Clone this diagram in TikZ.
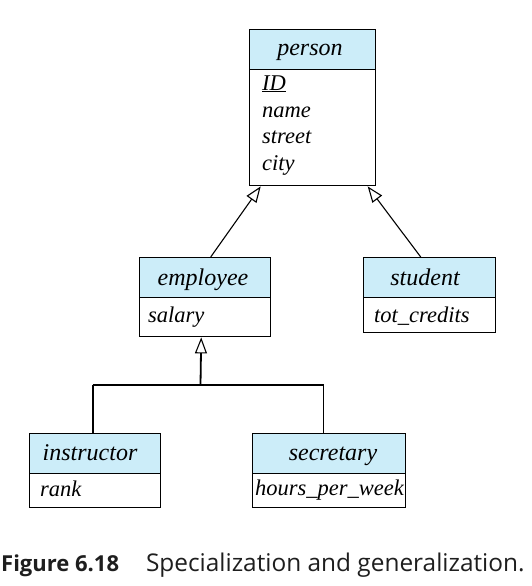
\documentclass[tikz,border=0pt]{standalone}
\usepackage{fontspec}
\setmainfont{Liberation Serif}
\newfontfamily\capfont{Open Sans}
\usetikzlibrary{arrows.meta}
\definecolor{hdrblue}{RGB}{204,237,249}
\definecolor{capgray}{RGB}{30,30,30}
\tikzset{
  hdrbox/.style={draw=black, line width=1.4pt, fill=hdrblue, anchor=north west, inner sep=0pt},
  bodybox/.style={draw=black, line width=1.4pt, fill=white, anchor=north west, inner sep=0pt},
  hlbl/.style={inner sep=0pt, anchor=base, font=\fontsize{24}{26}\selectfont\itshape},
  lbl/.style={inner sep=0pt, anchor=base west, font=\fontsize{22.5}{24}\selectfont\itshape},
  conn/.style={draw=black, line width=1.1pt},
  connthick/.style={draw=black, line width=1.8pt},
  gen/.style={-{Triangle[open, length=16pt, width=12pt, line width=1.1pt]}},
}
\begin{document}
\begin{tikzpicture}[x=1pt, y=-1pt]
\useasboundingbox (0,0) rectangle (531,586);
% person
\node[hdrbox, minimum width=126pt, minimum height=40pt] (personH) at (249,29) {};
\node[bodybox, minimum width=126pt, minimum height=116pt] (personB) at (249,69) {};
\node[hlbl] (personT) at (310,56) {person};
\node[lbl] (personA1) at (262,90) {\underline{ID}};
\node[lbl] (personA2) at (262,117) {name};
\node[lbl] (personA3) at (262,143) {street};
\node[lbl] (personA4) at (262,170) {city};
% employee
\node[hdrbox, minimum width=131pt, minimum height=40pt] (employeeH) at (139,257) {};
\node[bodybox, minimum width=131pt, minimum height=39pt] (employeeB) at (139,297) {};
\node[hlbl] (employeeT) at (203,285) {employee};
\node[lbl] (employeeA1) at (148,322) {salary};
% student
\node[hdrbox, minimum width=132pt, minimum height=40pt] (studentH) at (363,257) {};
\node[bodybox, minimum width=132pt, minimum height=35pt] (studentB) at (363,297) {};
\node[hlbl] (studentT) at (425,285) {student};
\node[lbl] (studentA1) at (374,322) {tot\_credits};
% instructor
\node[hdrbox, minimum width=131pt, minimum height=40pt] (instructorH) at (29,433) {};
\node[bodybox, minimum width=131pt, minimum height=34pt] (instructorB) at (29,473) {};
\node[hlbl] (instructorT) at (90,460) {instructor};
\node[lbl] (instructorA1) at (40,496) {rank};
% secretary
\node[hdrbox, minimum width=153pt, minimum height=40pt] (secretaryH) at (252,433) {};
\node[bodybox, minimum width=153pt, minimum height=34pt] (secretaryB) at (252,473) {};
\node[hlbl] (secretaryT) at (333,460) {secretary};
\node[lbl] (secretaryA1) at (255,495) {hours\_per\_week};
% generalization connectors
\draw[conn, gen] ([xshift=5.5pt]employeeH.north) -- ([xshift=-52pt]personB.south);
\draw[conn, gen] ([xshift=-9pt]studentH.north) -- ([xshift=55pt]personB.south);
\coordinate (junc) at (200.5,385);
\draw[connthick, gen] (junc) -- ([xshift=-4pt]employeeB.south);
\draw[connthick] ([xshift=-2.5pt]instructorH.north) -- ([xshift=-2.5pt]instructorH.north |- junc);
\draw[conn] ([xshift=-2.5pt]instructorH.north |- junc) -- ([xshift=-5.5pt]secretaryH.north |- junc) -- ([xshift=-5.5pt]secretaryH.north);
% caption
\node[inner sep=0pt, anchor=base west, text=capgray, font=\capfont] (caption) at (1,571) {{\fontsize{22}{26}\selectfont\bfseries Figure 6.18}\hspace{27pt}{\fontsize{24.4}{26}\selectfont Specialization and generalization.}};
\end{tikzpicture}
\end{document}
